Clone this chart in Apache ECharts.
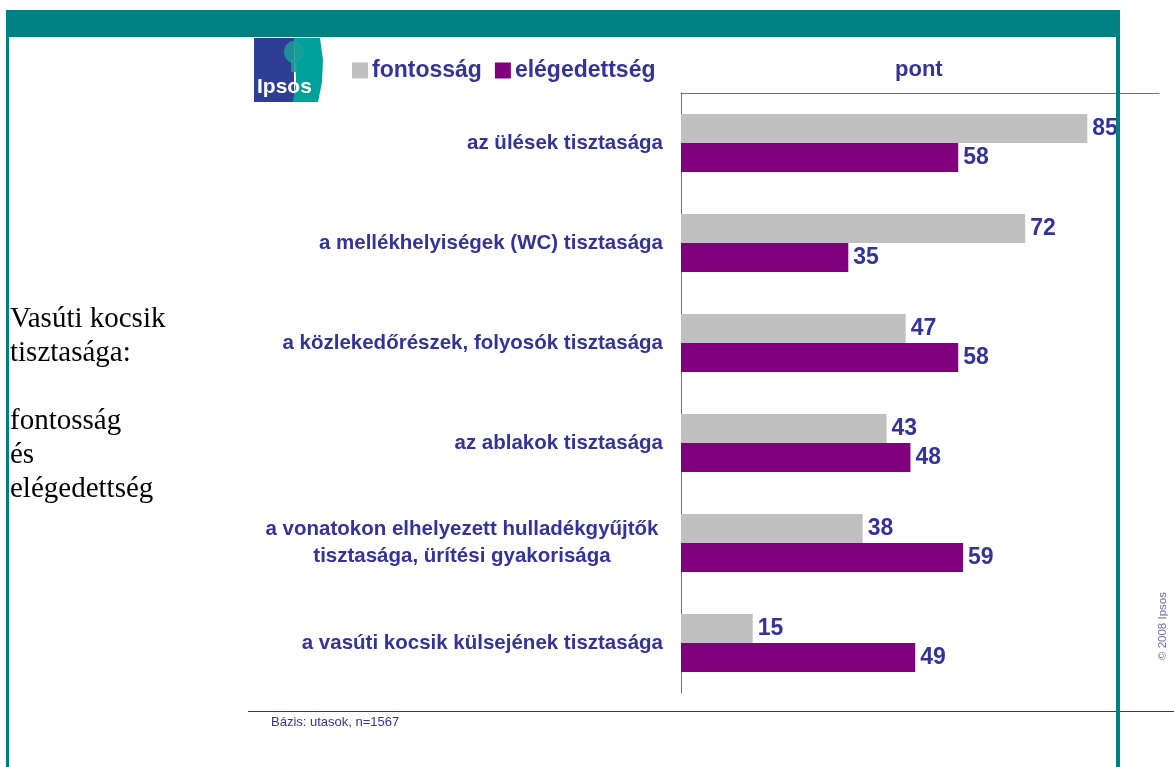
<!DOCTYPE html>
<html>
<head>
<meta charset="utf-8">
<script src="https://cdn.jsdelivr.net/npm/echarts@6/dist/echarts.min.js"></script>
<style>
  html, body { margin: 0; padding: 0; background: #fff; }
  #main { width: 1174px; height: 767px; }
</style>
</head>
<body>
<div id="main"></div>
<script>
// data
const categories = [
  "az ülések tisztasága",
  "a mellékhelyiségek (WC) tisztasága",
  "a közlekedőrészek, folyosók tisztasága",
  "az ablakok tisztasága",
  "a vonatokon elhelyezett hulladékgyűjtők\ntisztasága, ürítési gyakorisága",
  "a vasúti kocsik külsejének tisztasága"
];
const fontossag = [85, 72, 47, 43, 38, 15];
const elegedettseg = [58, 35, 58, 48, 59, 49];
const seriesNames = ["fontosság", "elégedettség"];

const BLUE = "#333399";
const TEAL = "#008080";
const FONT = "Liberation Sans, Arial, sans-serif";

const chart = echarts.init(document.getElementById("main"));

const labelStyle = {
  show: true,
  position: "right",
  distance: 5,
  color: BLUE,
  fontFamily: FONT,
  fontWeight: "bold",
  fontSize: 23
};

chart.setOption({
  animation: false,
  backgroundColor: "#fff",
  legend: {
    left: 347,
    top: 54,
    itemWidth: 16,
    itemHeight: 16,
    itemGap: 13,
    icon: "rect",
    textStyle: { color: BLUE, fontFamily: FONT, fontWeight: "bold", fontSize: 23, padding: [0, 0, 0, -1] },
    data: seriesNames
  },
  grid: { left: 681, right: 15, top: 93, bottom: 74, containLabel: false },
  xAxis: {
    type: "value",
    position: "top",
    min: 0,
    max: 100,
    axisLine: { show: true, lineStyle: { color: "#6b6bb0", width: 1 } },
    axisTick: { show: false },
    axisLabel: { show: false },
    splitLine: { show: false }
  },
  yAxis: {
    type: "category",
    inverse: true,
    data: categories,
    axisLine: { show: true, lineStyle: { color: "#6b6bb0", width: 1 } },
    axisTick: { show: false },
    axisLabel: {
      margin: 18,
      color: BLUE,
      fontFamily: FONT,
      fontWeight: "bold",
      fontSize: 20.5,
      formatter: function (v) {
        if (v.indexOf("\n") < 0) return v;
        return v.split("\n").map(function (l) { return "{c|" + l + "}"; }).join("\n");
      },
      rich: {
        c: { width: 402, align: "center", color: BLUE, fontFamily: FONT, fontWeight: "bold", fontSize: 20.5, lineHeight: 27 }
      }
    }
  },
  series: [
    {
      name: seriesNames[0],
      type: "bar",
      data: fontossag,
      barWidth: 29,
      barGap: "0%",
      itemStyle: { color: "#c0c0c0" },
      label: labelStyle
    },
    {
      name: seriesNames[1],
      type: "bar",
      data: elegedettseg,
      barWidth: 29,
      barGap: "0%",
      itemStyle: { color: "#800080" },
      label: labelStyle
    }
  ],
  graphic: [
    // slide frame
    { type: "rect", shape: { x: 6, y: 10, width: 1114, height: 27 }, style: { fill: TEAL }, z: 100 },
    { type: "rect", shape: { x: 6, y: 10, width: 3, height: 757 }, style: { fill: TEAL }, z: 100 },
    { type: "rect", shape: { x: 1116, y: 10, width: 4, height: 757 }, style: { fill: TEAL }, z: 100 },
    { type: "line", shape: { x1: 248, y1: 711.5, x2: 1174, y2: 711.5 }, style: { stroke: BLUE, lineWidth: 1 }, z: 90 },
    // logo
    { type: "rect", shape: { x: 254, y: 38, width: 40, height: 64 }, style: { fill: "#2e3e94" }, z: 50 },
    { type: "polygon", shape: { points: [[294, 38], [320, 38], [323, 60], [322, 82], [318, 102], [293, 102], [296, 80], [295, 60]] }, style: { fill: "#00a19a" }, z: 50 },
    { type: "ellipse", shape: { cx: 294, cy: 52, rx: 10, ry: 11 }, style: { fill: "#1a9d9a", opacity: 0.85 }, z: 51 },
    { type: "rect", shape: { x: 291, y: 60, width: 6, height: 12 }, style: { fill: "#1a9d9a", opacity: 0.85 }, z: 51 },
    { type: "text", left: 257, top: 77, z: 52, style: { text: "Ipsos", fill: "#fff", font: "bold 21px " + FONT } },
    // headings
    { type: "text", left: 895, top: 59, style: { text: "pont", fill: BLUE, font: "bold 22px " + FONT } },
    {
      type: "text", left: 10, top: 302,
      style: {
        text: "Vasúti kocsik\ntisztasága:\n\nfontosság\nés\nelégedettség",
        fill: "#000", font: "29px 'Liberation Serif', 'Times New Roman', serif", lineHeight: 34
      }
    },
    { type: "text", left: 271, top: 716, style: { text: "Bázis: utasok, n=1567", fill: BLUE, font: "13px " + FONT } },
    {
      type: "text", x: 1157, y: 660, rotation: Math.PI / 2,
      style: { text: "© 2008 Ipsos", fill: "#6f6fa8", font: "11.5px " + FONT }
    }
  ]
});
</script>
</body>
</html>
